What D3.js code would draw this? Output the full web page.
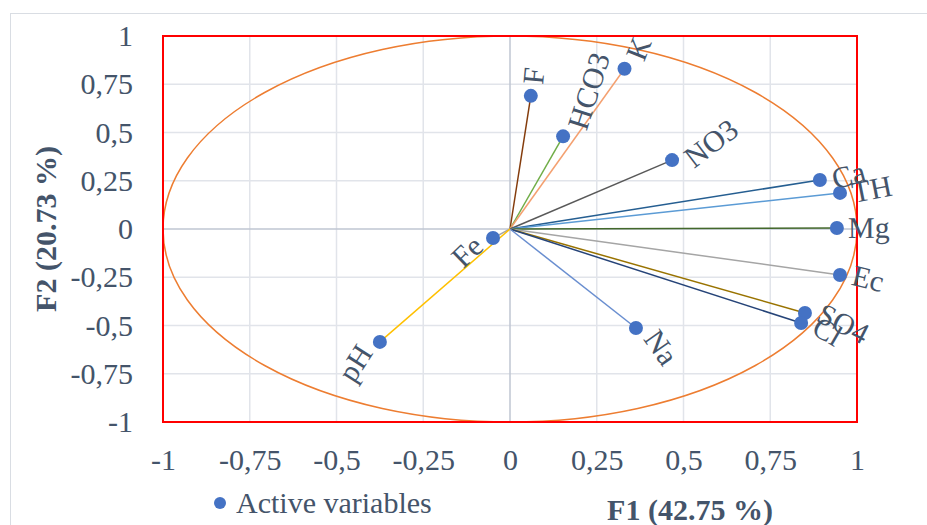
<!DOCTYPE html>
<html>
<head>
<meta charset="utf-8">
<script src="https://cdn.jsdelivr.net/npm/d3@7"></script>
<style>
  body { margin: 0; background: #fff; }
  svg { display: block; font-family: "Liberation Serif", "Times New Roman", serif; }
</style>
</head>
<body>
<div id="chart"></div>
<script>
// variable names, loadings on F1 / F2, and the colour of each vector
const variables = ['F', 'HCO3', 'K', 'NO3', 'Ca', 'TH', 'Mg', 'Ec', 'SO4', 'Cl', 'Na', 'Fe', 'pH'];
const f1Values = [0.06, 0.153, 0.33, 0.467, 0.893, 0.951, 0.942, 0.951, 0.85, 0.839, 0.363, -0.049, -0.375];
const f2Values = [0.69, 0.48, 0.83, 0.357, 0.254, 0.187, 0.005, -0.238, -0.435, -0.487, -0.513, -0.047, -0.585];
const vectorColors = ['#843c0c', '#70ad47', '#f4a070', '#595959', '#255e91', '#5b9bd5', '#43682b',
  '#a5a5a5', '#997300', '#264478', '#698ed0', '#a5a5a5', '#ffc000'];
const tickValues = [-1, -0.75, -0.5, -0.25, 0, 0.25, 0.5, 0.75, 1];

const width = 927, height = 525;
const margin = {top: 36, right: 70, bottom: 103, left: 163};
const textColor = '#44546a';
const fontSize = 30;

const data = variables.map((name, i) => ({
  name, x: f1Values[i], y: f2Values[i], color: vectorColors[i]
}));

const svg = d3.select('#chart')
  .append('svg')
    .attr('width', width)
    .attr('height', height);

// outer chart frame
svg.append('rect')
  .attr('x', 10.5).attr('y', 13.5)
  .attr('width', width).attr('height', height)
  .attr('fill', 'none')
  .attr('stroke', '#d9dde3');

const x = d3.scaleLinear().domain([-1, 1]).range([margin.left, width - margin.right]);
const y = d3.scaleLinear().domain([-1, 1]).range([height - margin.bottom, margin.top]);

const fmt = (d) => String(d).replace('.', ',');

// gridlines
const grid = svg.append('g');
grid.selectAll('.gx')
  .data(tickValues.filter((d) => d !== 0))
  .join('line')
    .attr('x1', (d) => x(d)).attr('x2', (d) => x(d))
    .attr('y1', y(1)).attr('y2', y(-1))
    .attr('stroke', '#e1e4ea').attr('stroke-width', 1.5);
grid.selectAll('.gy')
  .data(tickValues.filter((d) => d !== 0))
  .join('line')
    .attr('y1', (d) => y(d)).attr('y2', (d) => y(d))
    .attr('x1', x(-1)).attr('x2', x(1))
    .attr('stroke', '#e1e4ea').attr('stroke-width', 1.5);

// zero lines
svg.append('line')
  .attr('x1', x(0)).attr('x2', x(0)).attr('y1', y(1)).attr('y2', y(-1))
  .attr('stroke', '#bfc6d2').attr('stroke-width', 1.5);
svg.append('line')
  .attr('y1', y(0)).attr('y2', y(0)).attr('x1', x(-1)).attr('x2', x(1))
  .attr('stroke', '#bfc6d2').attr('stroke-width', 1.5);

// axes (labels only)
const xAxis = svg.append('g')
  .attr('transform', `translate(0, ${y(-1) + 45})`)
  .call(d3.axisBottom(x).tickValues(tickValues).tickFormat(fmt).tickSize(0));
xAxis.select('.domain').remove();
xAxis.selectAll('text')
  .attr('fill', textColor).attr('font-size', fontSize).attr('dy', 0)
  .attr('font-family', '"Liberation Serif", serif');

const yAxis = svg.append('g')
  .attr('transform', `translate(${x(-1) - 27}, 0)`)
  .call(d3.axisLeft(y).tickValues(tickValues).tickFormat(fmt).tickSize(0));
yAxis.select('.domain').remove();
yAxis.selectAll('text')
  .attr('fill', textColor).attr('font-size', fontSize).attr('dy', '0.32em')
  .attr('font-family', '"Liberation Serif", serif');

// correlation circle
svg.append('ellipse')
  .attr('cx', x(0)).attr('cy', y(0))
  .attr('rx', x(1) - x(0)).attr('ry', y(-1) - y(0))
  .attr('fill', 'none')
  .attr('stroke', '#ed7d31').attr('stroke-width', 1.5);

// vectors
svg.append('g').selectAll('line')
  .data(data)
  .join('line')
    .attr('x1', x(0)).attr('y1', y(0))
    .attr('x2', (d) => x(d.x)).attr('y2', (d) => y(d.y))
    .attr('stroke', (d) => d.color)
    .attr('stroke-width', 1.5);

// plot frame
svg.append('rect')
  .attr('x', x(-1)).attr('y', y(1))
  .attr('width', x(1) - x(-1)).attr('height', y(-1) - y(1))
  .attr('fill', 'none')
  .attr('stroke', '#ff0000').attr('stroke-width', 2);

// points
svg.append('g').selectAll('circle')
  .data(data)
  .join('circle')
    .attr('cx', (d) => x(d.x)).attr('cy', (d) => y(d.y))
    .attr('r', 7)
    .attr('fill', '#4472c4');

// labels: rotated along the data angle, centred beyond the point along the vector
svg.append('g').selectAll('text')
  .data(data)
  .join('text')
    .attr('fill', textColor)
    .attr('font-size', fontSize)
    .attr('text-anchor', 'middle')
    .attr('dy', '0.33em')
    .text((d) => d.name)
    .each(function(d) {
      const w = this.getComputedTextLength();
      const h = fontSize * 0.9;
      let ang = Math.atan2(d.y, d.x);
      if (d.x < 0) ang += Math.PI;
      const px = x(d.x), py = y(d.y);
      const a = Math.atan2(py - y(0), px - x(0));
      // how far the rotated text box reaches along the vector
      const s = Math.abs(Math.sin(a + ang));
      const c = Math.sqrt(1 - s * s);
      const extent = w * c + h * s;
      const off = 11 + extent / 2;
      const tx = px + Math.cos(a) * off, ty = py + Math.sin(a) * off;
      d3.select(this)
        .attr('transform', `translate(${tx},${ty}) rotate(${-ang * 180 / Math.PI})`);
    });

// axis titles
svg.append('text')
  .attr('transform', `translate(56, ${y(0)}) rotate(-90)`)
  .attr('text-anchor', 'middle')
  .attr('font-weight', 'bold').attr('font-size', fontSize)
  .attr('fill', textColor)
  .text('F2 (20.73 %)');

svg.append('text')
  .attr('x', 690).attr('y', 520)
  .attr('text-anchor', 'middle')
  .attr('font-weight', 'bold').attr('font-size', fontSize)
  .attr('fill', textColor)
  .text('F1 (42.75 %)');

// legend
svg.append('circle')
  .attr('cx', 220).attr('cy', 503).attr('r', 6)
  .attr('fill', '#4472c4');
svg.append('text')
  .attr('x', 236).attr('y', 513)
  .attr('font-size', fontSize)
  .attr('fill', textColor)
  .text('Active variables');
</script>
</body>
</html>
